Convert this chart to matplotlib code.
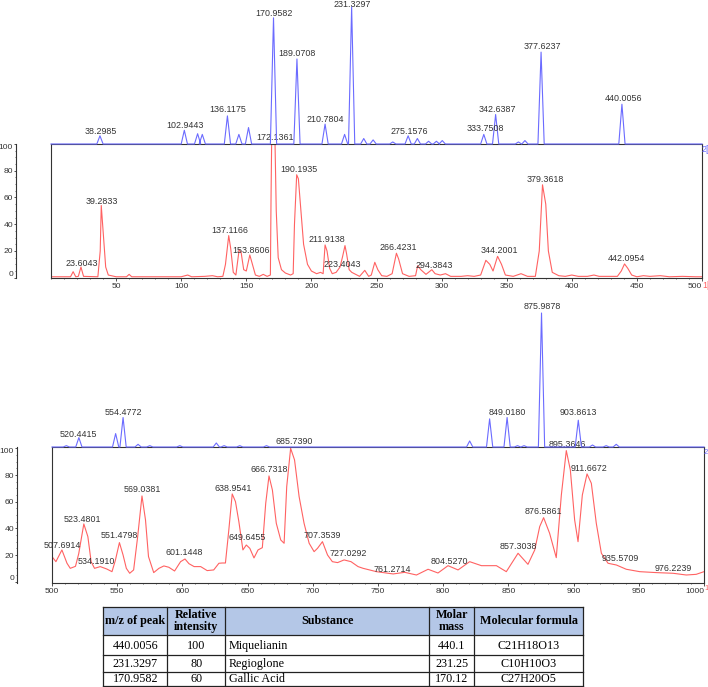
import matplotlib.pyplot as plt
from matplotlib.patches import Rectangle
from matplotlib.ticker import MultipleLocator

plt.rcParams['font.family'] = ['Liberation Sans', 'DejaVu Sans']

W, H = 708, 687
RED = '#ff6262'
BLUE = '#6b6bff'
INK = '#333333'

# ---- upper pair of traces, m/z 0-500
top_blue_mz = [37.6, 102.4, 112.6, 116.2, 135.5, 144.3, 151.7, 170.9, 188.9, 210.5,
               225.5, 230.9, 240.2, 247.4, 262.5, 274.3, 281.4, 290.0, 296.0, 300.5,
               332.4, 341.5, 359.0, 364.0, 376.4, 438.5]
top_blue_int = [6, 10, 7.5, 7, 20.5, 7, 12, 92, 62, 14.5,
                7, 100, 4, 3, 1.5, 6, 4, 2, 2, 2.5,
                7, 21.5, 1.5, 2.5, 67, 29]
top_blue_labels = ['38.2985', '102.9443', '136.1175', '170.9582', '189.0708', '210.7804',
                   '231.3297', '275.1576', '333.7508', '342.6387', '377.6237', '440.0056']
top_blue_label_y = [9, 13.2, 24.8, 95.4, 66, 17.9, 101.5, 9, 11.2, 25, 70.8, 32.9]

top_red_mz = [0, 15, 17, 19, 21, 23, 25, 36, 37.8, 38.6, 40, 42, 44, 50, 58, 60, 62, 100, 105, 108,
              118, 124, 128, 132, 134, 136.5, 138, 140, 142, 144.5, 146, 148, 150, 152.7, 155, 157,
              160, 163, 166, 168.5, 169, 169.5, 172, 173, 174.5, 177, 180, 184, 186, 187, 188.7, 190,
              192, 194, 197, 200, 204, 207, 209, 210.5, 212, 214, 216, 219, 222, 224, 225.8, 227,
              229, 231, 233, 237, 241, 244, 246, 248.7, 251, 254, 258, 262, 265.3, 267, 270, 275,
              280, 281.6, 284, 288, 292.5, 295, 299, 303, 307, 315, 320, 325, 330, 334, 337, 339.5,
              343, 346, 349, 355, 361, 366, 372, 375, 377.5, 380, 382, 385, 390, 395, 400, 405, 412,
              417, 421, 435, 438, 440.5, 443, 446, 450, 455, 460, 468, 475, 485, 495, 500]
top_red_int = [0.7, 0.7, 4.5, 0.7, 1, 8, 1, 0.7, 20, 54, 35, 8, 2, 0.7, 0.7, 2.5, 0.7, 0.7, 2, 0.7,
               1, 1.5, 0.7, 1, 10, 31.5, 22, 4, 2, 21, 19, 6, 5, 17, 9, 2,
               1, 2.5, 1, 2, 60, 104, 104, 50, 15, 6, 3.5, 2, 3, 40, 77, 74,
               50, 25, 10, 5, 3, 4, 3, 24.5, 20, 7, 3, 4, 8, 16, 24, 18,
               6, 4, 3, 1, 5.5, 1, 2, 11.5, 6, 1.5, 1, 3, 18.3, 14, 3, 1,
               1.5, 9, 6, 2.5, 6, 3, 2, 3, 1, 1, 1.5, 1, 2, 13, 10, 5,
               16, 10, 2, 1, 3, 1, 1, 20, 69.5, 55, 20, 4, 1.5, 1, 2, 1, 1,
               2, 1, 1, 5, 10.3, 7, 2, 0.7, 1.5, 1, 1.5, 0.7, 1, 0.7, 0.7]
top_red_labels = ['23.6043', '39.2833', '137.1166', '153.8606', '172.1361', '190.1935', '211.9138',
                  '223.4043', '266.4231', '294.3843', '344.2001', '379.3618', '442.0954']
top_red_label_y = [10.8, 56.8, 35.3, 20.3, 104.8, 80.8, 28.3, 9.5, 22.8, 9, 20, 73.8, 14.6]

# ---- lower pair of traces, m/z 500-1000
bot_blue_mz = [511, 520.6, 548.8, 554.5, 566, 575, 598, 626, 632, 644, 664.5,
               820.3, 835.6, 849, 857, 862, 875.4, 903.6, 914.5, 925, 932.7]
bot_blue_int = [1, 7, 10, 22, 2, 1, 1, 3, 1, 1, 1,
                4.5, 21, 22, 1, 1, 100, 20, 1.5, 1, 2]
bot_blue_labels = ['520.4415', '554.4772', '849.0180', '875.9878', '903.8613']
bot_blue_label_y = [9.7, 25.6, 25.6, 104.7, 25.6]

bot_red_mz = [500, 503, 507.6, 511.5, 514, 518, 520.5, 524.4, 527.5, 530, 532.6, 537, 542, 546,
              548.6, 551.7, 554.5, 557, 559.6, 562.6, 565.7, 569, 571.7, 574, 578, 582, 585.8,
              589.6, 594, 598.6, 602, 605, 609, 614, 619, 624, 628, 630.6, 633, 635.6, 638.2,
              640.7, 643.3, 646.4, 649, 651.7, 654.9, 658, 661.3, 663.9, 666.4, 669, 672, 675.4,
              678, 680, 683, 686, 689.5, 693.3, 697.2, 701, 703.6, 707.4, 711.3, 715, 719, 724,
              729.3, 734.7, 738.6, 748.8, 761.6, 770.5, 779.5, 788.4, 796, 803.7, 811.4, 820.3,
              829.3, 840.8, 848.4, 857.4, 865, 870.2, 874, 877, 881.6, 886.7, 890.6, 894.4, 897.5,
              900.8, 903.4, 906.7, 910.3, 913.6, 917.4, 921.3, 926.4, 932.8, 940.4, 950.7, 963.4,
              976.2, 986.4, 994, 1000]
bot_red_int = [18.8, 15, 23.8, 13.8, 10, 11.5, 21, 43.3, 33.8, 15, 10, 11.3, 9.5, 7.5,
               16, 29.3, 20, 10, 6.3, 8.8, 33.8, 64.3, 46.3, 18.8, 6.8, 10, 11.8,
               10.8, 8, 15, 17, 13.5, 11.3, 11.3, 8.3, 8.8, 13.8, 14, 14, 38.8, 65.8,
               60, 45, 23.8, 27.5, 25, 17.8, 23.8, 25.5, 58.8, 79.3, 68.8, 43.8, 31.3,
               28.8, 71.3, 100, 91.3, 63.8, 43.8, 28.8, 22.5, 25, 30, 20, 15, 14.3, 16.3,
               15, 11.3, 10, 7.5, 5.8, 7, 5, 9.3, 6.5, 12, 8.8, 15,
               12, 12, 7.5, 21.3, 13, 23.8, 41.3, 48, 36.3, 18, 65, 98.3, 83.8,
               46.3, 30, 65, 80.8, 73.8, 43.8, 21.3, 13.8, 12.5, 9.3, 7.5, 6.8,
               6.3, 5, 5.5, 7.5]
bot_red_labels = ['507.6914', '523.4801', '534.1910', '551.4798', '569.0381', '601.1448',
                  '638.9541', '649.6455', '666.7318', '685.7390', '707.3539', '727.0292',
                  '761.2714', '804.5270', '857.3038', '876.5861', '895.3646', '911.6672',
                  '935.5709', '976.2239']
bot_red_label_y = [27.5, 47, 15.5, 34.5, 68.8, 21.8, 70, 33.3, 83.8, 105, 34.5, 20.8,
                   8.8, 15.5, 26.3, 53, 103, 85, 17.5, 10]

# ---- table
table_header = ['m/z of peak', 'Relative\nintensity', 'Substance', 'Molar\nmass', 'Molecular formula']
peak_mz = ['440.0056', '231.3297', '170.9582']
rel_intensity = ['100', '80', '60']
substance = ['Miquelianin', 'Regioglone', 'Gallic Acid']
molar_mass = ['440.1', '231.25', '170.12']
formula = ['C21H18O13', 'C10H10O3', 'C27H20O5']


def rect(x0, y0, x1, y1):
    # pixel box (top-left origin) -> figure fraction
    return [x0 / W, 1 - y1 / H, (x1 - x0) / W, (y1 - y0) / H]


def stick_trace(mz, inten, start, stop, hw=2.4):
    xs, ys = [start], [0]
    for m, h in zip(mz, inten):
        xs += [m - hw, m, m + hw]
        ys += [0, h, 0]
    xs.append(stop)
    ys.append(0)
    return xs, ys


def peak_labels(ax, labels, ys):
    for lab, y in zip(labels, ys):
        ax.text(float(lab), y, lab, ha='center', va='center', fontsize=6.4,
                color=INK, clip_on=False)


def red_axes(box, xlim, xticks, mz, inten, labels, label_y, ylim):
    ax = fig.add_axes(rect(*box))
    ax.plot(mz, inten, color=RED, lw=0.8)
    ax.set_xlim(*xlim)
    ax.set_ylim(*ylim)
    ax.set_xticks(xticks)
    ax.xaxis.set_minor_locator(MultipleLocator(10))
    ax.set_yticks(range(0, 101, 20))
    ax.yaxis.set_minor_locator(MultipleLocator(5))
    for s in ax.spines.values():
        s.set_color(INK)
        s.set_linewidth(0.8)
    ax.spines['left'].set_position(('outward', 25))
    ax.axvline(xlim[0], color=INK, lw=0.8, clip_on=False)
    ax.tick_params(which='major', length=1.6, width=0.6, pad=0.8, labelsize=6.1,
                   colors=INK)
    ax.tick_params(axis='x', which='major', length=2, pad=1.5)
    ax.tick_params(which='minor', length=1, width=0.5, colors=INK)
    yl = ax.get_yticklabels()
    yl[0].set_va('bottom')
    yl[-1].set_va('top')
    ax.get_xticklabels()[-1].set_ha('right')
    peak_labels(ax, labels, label_y)
    return ax


def blue_axes(box, xlim, mz, inten, labels, label_y, ytop):
    ax = fig.add_axes(rect(*box))
    ax.patch.set_alpha(0)
    xs, ys = stick_trace(mz, inten, xlim[0], xlim[1])
    ax.plot(xs, ys, color=BLUE, lw=0.8, clip_on=False)
    ax.set_xlim(*xlim)
    ax.set_ylim(0, ytop)
    ax.axis('off')
    peak_labels(ax, labels, label_y)
    return ax


fig = plt.figure(figsize=(W / 100, H / 100), dpi=100)

red_axes((51, 144, 702, 277.7), (0, 500), range(50, 501, 50),
         top_red_mz, top_red_int, top_red_labels, top_red_label_y, (0, 100))
blue_axes((51, 0, 702, 144), (0, 500), top_blue_mz, top_blue_int,
          top_blue_labels, top_blue_label_y, 105)

red_axes((52, 447, 704, 583), (500, 1000), range(500, 1001, 50),
         bot_red_mz, bot_red_int, bot_red_labels, bot_red_label_y, (-1, 101))
blue_axes((52, 300, 704, 447), (500, 1000), bot_blue_mz, bot_blue_int,
          bot_blue_labels, bot_blue_label_y, 109.7)

# trace tags at the right edge
fig.text(702 / W, 1 - 149 / H, '2[', color=BLUE, fontsize=6.5, va='center')
fig.text(702 / W, 1 - 285 / H, '1[', color=RED, fontsize=6.5, va='center')
fig.text(704 / W, 1 - 452 / H, '2', color=BLUE, fontsize=5.5, va='center')
fig.text(704 / W, 1 - 588 / H, '1', color=RED, fontsize=5.5, va='center')

# ---- table below the spectra
tax = fig.add_axes(rect(103.3, 606.7, 583.3, 685.7))
tax.set_xlim(0, 480)
tax.set_ylim(79, 0)
tax.axis('off')
col_edges = [0, 64, 121.7, 326, 371, 480]
row_edges = [0, 28.7, 48.7, 65.7, 79]
tax.add_patch(Rectangle((0, 0), 480, 28.7, facecolor='#b4c7e7', edgecolor='none'))
for yv in row_edges:
    tax.plot([0, 480], [yv, yv], color='#222222', lw=0.9, clip_on=False)
for xv in col_edges:
    tax.plot([xv, xv], [0, 79], color='#222222', lw=0.9, clip_on=False)

serif = ['Liberation Serif', 'DejaVu Serif']
for i, head in enumerate(table_header):
    xc = (col_edges[i] + col_edges[i + 1]) / 2
    tax.text(xc, 14.5, head, ha='center', va='center', fontsize=8.7,
             fontweight='bold', family=serif, linespacing=1.05)

row_y = [39.5, 57, 72.5]
for r in range(len(peak_mz)):
    cells = [peak_mz[r], rel_intensity[r], substance[r], molar_mass[r], formula[r]]
    for i, val in enumerate(cells):
        if i == 2:
            tax.text(col_edges[i] + 4, row_y[r], val, ha='left', va='center',
                     fontsize=8.7, family=serif)
        else:
            xc = (col_edges[i] + col_edges[i + 1]) / 2
            tax.text(xc, row_y[r], val, ha='center', va='center',
                     fontsize=8.7, family=serif)

fig.savefig('out.png', dpi=100)
